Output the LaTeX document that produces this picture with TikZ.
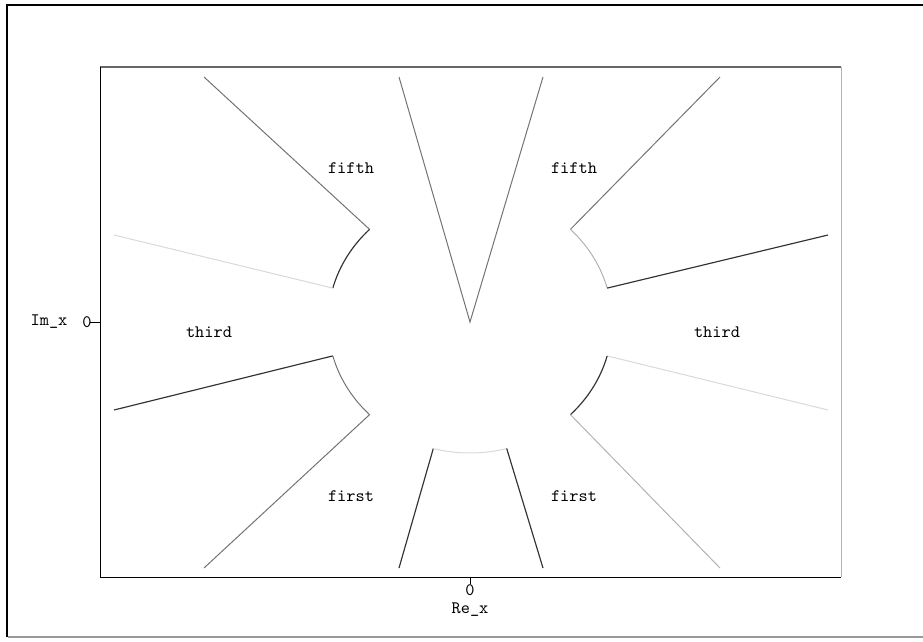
\documentclass[tikz,border=0pt]{standalone}
\begin{document}
\begin{tikzpicture}[x=0.6pt,y=-0.6pt,
  lbl/.style={font=\ttfamily\fontsize{10.5}{12}\selectfont, inner sep=0pt},
  cdark/.style={draw=black!80, line width=0.7pt},
  cmid/.style={draw=black!55, line width=0.6pt},
  clight/.style={draw=black!30, line width=0.6pt},
  cvlight/.style={draw=black!15, line width=0.6pt}]
\useasboundingbox (0,0) rectangle (923,641);
% outer frame
\draw[black, line width=1.6pt] (923,5) -- (7,5) -- (7,637);
\draw[black!40, line width=1pt] (8,637) -- (923,637);
% plot box
\draw[black!60, line width=0.8pt] (100,67) -- (841,67);
\draw[black, line width=0.6pt] (100,67) -- (100,577) -- (841,577);
\draw[black!30, line width=0.5pt] (841,67) -- (841,577);
% ticks
\coordinate (ty) at (100,322);
\coordinate (tyl) at (90,322);
\draw[black, line width=0.6pt] (ty) -- (tyl);
\coordinate (tx) at (470,577);
\coordinate (txb) at (470,584);
\draw[black, line width=0.6pt] (tx) -- (txb);
\node[lbl] (y0) at (87,322) {0};
\node[lbl] (ylab) at (49,322) {Im\_x};
\node[lbl] (x0) at (470,590) {0};
\node[lbl] (xlab) at (470,610) {Re\_x};
% center
\coordinate (c) at (470,322);
% V at top
\coordinate (v1) at (399,77);
\coordinate (v2) at (543,77);
\draw[cmid] (v1) -- (c) -- (v2);
% inner arc points
\coordinate (p135) at (369.6,229.4);
\coordinate (p165) at (332.8,288.1);
\coordinate (p195) at (332.8,355.9);
\coordinate (p225) at (369.6,414.6);
\coordinate (p255) at (433.3,448.5);
\coordinate (p285) at (506.7,448.5);
\coordinate (p315) at (570.4,414.6);
\coordinate (p345) at (607.2,355.9);
\coordinate (p15) at (607.2,288.1);
\coordinate (p45) at (570.4,229.4);
% outer points
\coordinate (q135) at (204,77);
\coordinate (q165) at (114,235);
\coordinate (q195) at (114,410);
\coordinate (q225) at (204,568);
\coordinate (q255) at (399,568);
\coordinate (q285) at (543,568);
\coordinate (q315) at (720,568);
\coordinate (q345) at (828,410);
\coordinate (q15) at (828,235);
\coordinate (q45) at (720,77);
% upper left
\draw[cmid] (q135) -- (p135);
\draw[cdark] plot[domain=135:165, samples=30, smooth] ({470+142*cos(\x)},{322-131*sin(\x)});
\draw[cvlight] (p165) -- (q165);
% upper right
\draw[cmid] (q45) -- (p45);
\draw[clight] plot[domain=15:45, samples=30, smooth] ({470+142*cos(\x)},{322-131*sin(\x)});
\draw[cdark] (p15) -- (q15);
% lower left
\draw[cdark] (q195) -- (p195);
\draw[cmid] plot[domain=195:225, samples=30, smooth] ({470+142*cos(\x)},{322-131*sin(\x)});
\draw[cmid] (p225) -- (q225);
% lower right
\draw[cvlight] (q345) -- (p345);
\draw[cdark] plot[domain=315:345, samples=30, smooth] ({470+142*cos(\x)},{322-131*sin(\x)});
\draw[clight] (p315) -- (q315);
% bottom
\draw[cdark] (q255) -- (p255);
\draw[cvlight] plot[domain=255:285, samples=30, smooth] ({470+142*cos(\x)},{322-131*sin(\x)});
\draw[cdark] (p285) -- (q285);
% labels
\node[lbl] (f5l) at (351,168) {fifth};
\node[lbl] (f5r) at (574,168) {fifth};
\node[lbl] (t3l) at (209,332) {third};
\node[lbl] (t3r) at (717,332) {third};
\node[lbl] (f1l) at (351,496) {first};
\node[lbl] (f1r) at (574,496) {first};
\end{tikzpicture}
\end{document}
